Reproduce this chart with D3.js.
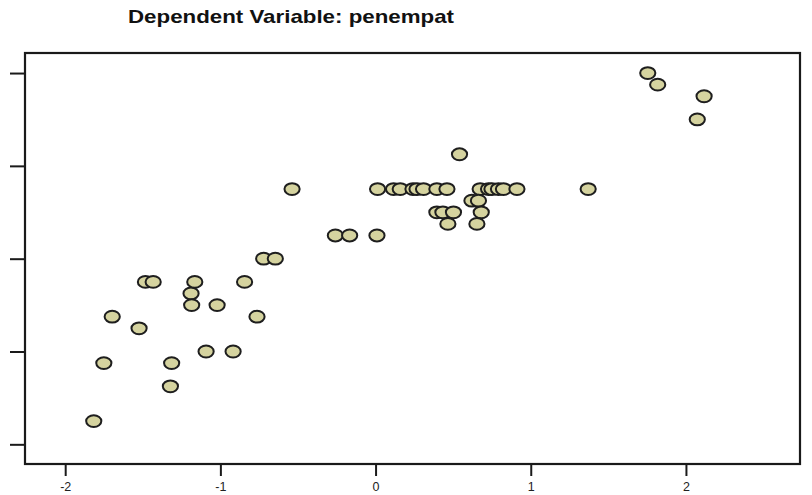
<!DOCTYPE html>
<html>
<head>
<meta charset="utf-8">
<script src="https://cdn.jsdelivr.net/npm/d3@7"></script>
<style>
  html, body { margin: 0; padding: 0; background: #fff; }
  svg { display: block; }
</style>
</head>
<body>
<svg id="chart" width="812" height="495"></svg>
<script>
const title = "Dependent Variable: penempat";
const xTicks = [-2, -1, 0, 1, 2];
const yTicks = [1, 2, 3, 4, 5];
const xValues = [
  -1.816, -1.751, -1.697, -1.524, -1.483, -1.433, -1.322, -1.314, -1.189, -1.185,
  -1.165, -1.092, -1.021, -0.918, -0.844, -0.764, -0.721, -0.646, -0.538, -0.259,
  -0.167, 0.009,
  0.013, 0.116, 0.159, 0.241, 0.267, 0.309, 0.395, 0.460, 0.674, 0.728, 0.750, 0.792, 0.824, 0.911, 1.370,
  0.621, 0.663,
  0.395, 0.434, 0.502, 0.681,
  0.466, 0.653,
  0.541, 1.754, 1.818, 2.117, 2.073
];
const yValues = [
  1.25, 1.875, 2.375, 2.25, 2.75, 2.75, 1.625, 1.875, 2.625, 2.5,
  2.75, 2.0, 2.5, 2.0, 2.75, 2.375, 3.0, 3.0, 3.75, 3.25,
  3.25, 3.25,
  3.75, 3.75, 3.75, 3.75, 3.75, 3.75, 3.75, 3.75, 3.75, 3.75, 3.75, 3.75, 3.75, 3.75, 3.75,
  3.625, 3.625,
  3.5, 3.5, 3.5, 3.5,
  3.375, 3.375,
  4.125, 5.0, 4.875, 4.75, 4.5
];

const svg = d3.select("#chart");
const mLeft = 25, mRight = 800, mTop = 53, mBottom = 464;

const x = d3.scaleLinear().domain([-2.259, 2.735]).range([mLeft, mRight]);
const y = d3.scaleLinear().domain([0.788, 5.216]).range([mBottom, mTop]);

svg.append("text")
  .attr("x", 291).attr("y", 23)
  .attr("text-anchor", "middle")
  .attr("font-family", "Liberation Sans, Arial, sans-serif")
  .attr("font-weight", "bold")
  .attr("font-size", 19)
  .attr("textLength", 326)
  .attr("lengthAdjust", "spacingAndGlyphs")
  .attr("fill", "#111")
  .text(title);

// frame
svg.append("rect")
  .attr("x", mLeft).attr("y", mTop)
  .attr("width", mRight - mLeft).attr("height", mBottom - mTop)
  .attr("fill", "none").attr("stroke", "#1a1a1a").attr("stroke-width", 2.2);

// x axis
const xAxis = d3.axisBottom(x).tickValues(xTicks).tickSize(12).tickPadding(6)
  .tickFormat(d3.format("d"));
const gx = svg.append("g").attr("transform", `translate(0,${mBottom})`).call(xAxis);
gx.select(".domain").remove();
gx.selectAll(".tick line").attr("stroke", "#1a1a1a").attr("stroke-width", 2);
gx.selectAll(".tick text")
  .attr("font-family", "Liberation Sans, Arial, sans-serif")
  .attr("font-size", 12.5).attr("fill", "#222")
  .text(d => d < 0 ? "-" + Math.abs(d) : d);

// y axis
const yAxis = d3.axisLeft(y).tickValues(yTicks).tickSize(15).tickFormat("");
const gy = svg.append("g").attr("transform", `translate(${mLeft},0)`).call(yAxis);
gy.select(".domain").remove();
gy.selectAll(".tick line").attr("stroke", "#1a1a1a").attr("stroke-width", 2);

// points
const pts = xValues.map((v, i) => ({x: v, y: yValues[i]}));
svg.append("g").selectAll("ellipse").data(pts).join("ellipse")
  .attr("cx", d => x(d.x)).attr("cy", d => y(d.y))
  .attr("rx", 7.6).attr("ry", 5.9)
  .attr("fill", "#d5d39f").attr("stroke", "#1e1e1e").attr("stroke-width", 2);
</script>
</body>
</html>
